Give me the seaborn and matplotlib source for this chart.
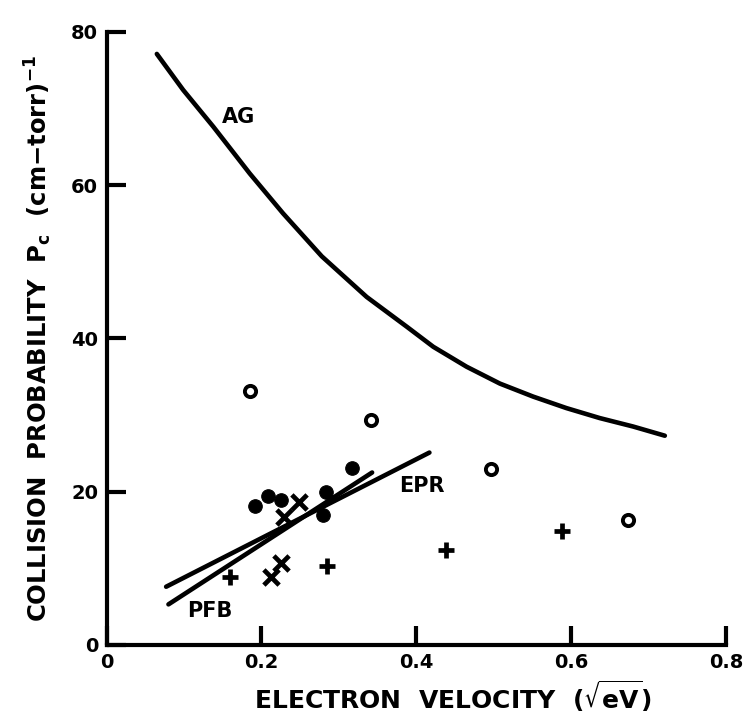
import numpy as np
import pandas as pd
import seaborn as sns
import matplotlib.pyplot as plt

sns.set_style('ticks')
plt.rcParams['font.family'] = ['DejaVu Sans']
plt.rcParams['font.weight'] = 'bold'
plt.rcParams['mathtext.default'] = 'bf'
for k in ['text.color', 'axes.labelcolor', 'xtick.color', 'ytick.color', 'axes.edgecolor']:
    plt.rcParams[k] = 'black'

# AG theory curve
ag_x = [0.065, 0.099, 0.138, 0.185, 0.228, 0.278, 0.336, 0.388, 0.422,
        0.465, 0.508, 0.551, 0.594, 0.637, 0.680, 0.721]
ag_y = [77.1, 72.4, 67.6, 61.5, 56.3, 50.7, 45.4, 41.5, 38.9,
        36.3, 34.1, 32.4, 30.9, 29.6, 28.5, 27.3]

# fitted lines
epr_x = [0.077, 0.417]
epr_y = [7.6, 25.1]
pfb_x = [0.080, 0.343]
pfb_y = [5.3, 22.5]

# measured points
open_x = [0.185, 0.342, 0.496, 0.674]
open_y = [33.1, 29.4, 22.9, 16.3]
dot_x = [0.192, 0.208, 0.225, 0.279, 0.283, 0.317]
dot_y = [18.1, 19.5, 18.9, 16.9, 20.0, 23.1]
cross_x = [0.248, 0.229, 0.225, 0.212]
cross_y = [18.7, 16.7, 10.7, 8.9]
plus_x = [0.159, 0.285, 0.439, 0.588]
plus_y = [8.9, 10.3, 12.4, 14.9]

fig = plt.figure(figsize=(7.46, 7.19), dpi=100)
ax = fig.add_axes([106.5/746, 1-645/719, (726-106.5)/746, (645-31.7)/719])

lw = 3.3
sns.lineplot(x=ag_x, y=ag_y, ax=ax, color='black', lw=lw, sort=False,
             solid_joinstyle='round', solid_capstyle='round')
sns.lineplot(x=epr_x, y=epr_y, ax=ax, color='black', lw=lw, solid_capstyle='round')
sns.lineplot(x=pfb_x, y=pfb_y, ax=ax, color='black', lw=lw, solid_capstyle='round')

sns.scatterplot(x=open_x, y=open_y, ax=ax, marker='o', s=65,
                facecolor='white', edgecolor='black', linewidth=2.8, zorder=5)
sns.scatterplot(x=dot_x, y=dot_y, ax=ax, marker='o', s=95,
                color='black', edgecolor='black', zorder=5)
sns.scatterplot(x=cross_x, y=cross_y, ax=ax, marker='x', s=120,
                color='black', linewidth=3.4, zorder=5)
sns.scatterplot(x=plus_x, y=plus_y, ax=ax, marker='+', s=120,
                color='black', linewidth=3.4, zorder=5)

ax.text(0.149, 68.9, 'AG', fontsize=15, fontweight='bold', va='center')
ax.text(0.378, 20.8, 'EPR', fontsize=15, fontweight='bold', va='center')
ax.text(0.104, 4.5, 'PFB', fontsize=15, fontweight='bold', va='center')

ax.set_xlim(0, 0.8)
ax.set_ylim(0, 80)
ax.set_xticks([0, 0.2, 0.4, 0.6, 0.8])
ax.set_xticklabels(['0', '0.2', '0.4', '0.6', '0.8'])
ax.set_yticks([0, 20, 40, 60, 80])
ax.tick_params(direction='in', length=14, width=3, labelsize=14, pad=6)
for lab in ax.get_xticklabels() + ax.get_yticklabels():
    lab.set_fontweight('bold')
sns.despine(ax=ax)
for s in ['left', 'bottom']:
    ax.spines[s].set_linewidth(3)

ax.set_xlabel(r'ELECTRON  VELOCITY  ($\sqrt{\mathbf{eV}}$)', fontsize=18,
              fontweight='bold', va='center')
ax.set_ylabel(r'COLLISION  PROBABILITY  $\mathbf{P_c}$  (cm$-$torr)$^{-1}$',
              fontsize=17.5, fontweight='bold', va='center')
ax.xaxis.set_label_coords(0.56, -0.083)
ax.yaxis.set_label_coords(-0.11, 0.5)

fig.savefig('out.png', dpi=100)
